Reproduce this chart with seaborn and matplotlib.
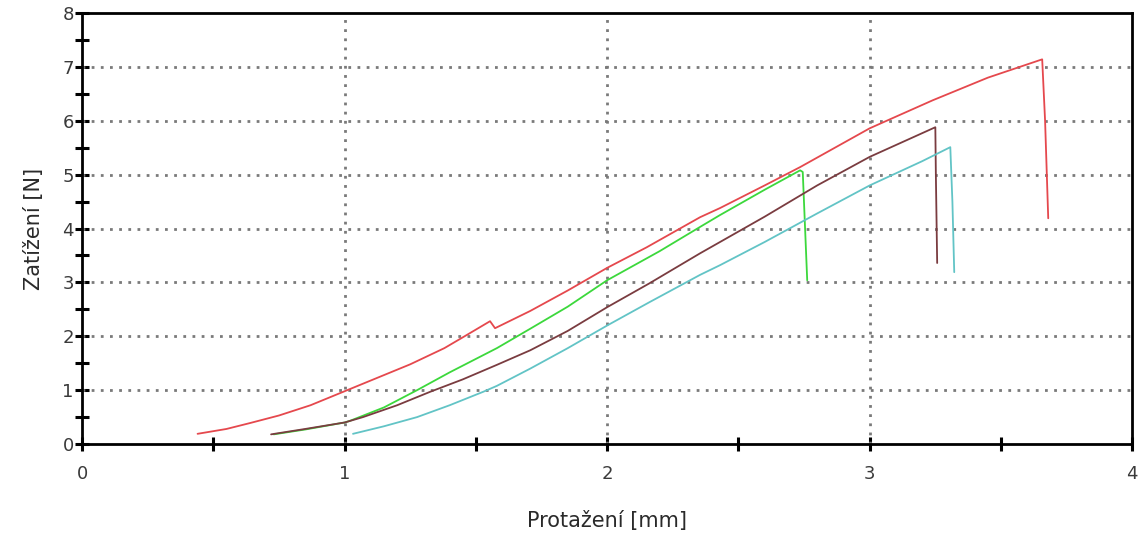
import matplotlib
matplotlib.use("Agg")
import matplotlib.pyplot as plt
import seaborn as sns
import pandas as pd
import numpy as np

# ---- data ----
red_x = [0.44, 0.55, 0.64, 0.75, 0.87, 1.0, 1.12, 1.25, 1.38, 1.45, 1.554, 1.573, 1.707, 1.85, 2.0, 2.15,
         2.354, 2.43, 2.6, 2.735, 3.0, 3.24, 3.45, 3.657, 3.668, 3.68]
red_y = [0.19, 0.28, 0.39, 0.53, 0.72, 0.98, 1.22, 1.48, 1.78, 1.98, 2.28, 2.15, 2.47, 2.85, 3.27, 3.65,
         4.21, 4.38, 4.80, 5.14, 5.86, 6.38, 6.80, 7.14, 6.0, 4.19]

green_x = [0.73, 0.85, 1.0, 1.02, 1.15, 1.276, 1.4, 1.58, 1.707, 1.85, 2.0, 2.2, 2.354, 2.43, 2.6, 2.735,
           2.745, 2.762]
green_y = [0.18, 0.27, 0.40, 0.43, 0.68, 1.0, 1.33, 1.78, 2.14, 2.55, 3.04, 3.58, 4.03, 4.25, 4.72, 5.08,
           5.05, 3.04]

brown_x = [0.72, 0.85, 1.0, 1.07, 1.2, 1.326, 1.45, 1.58, 1.707, 1.85, 2.0, 2.16, 2.354, 2.43, 2.6, 2.8,
           3.0, 3.25, 3.252, 3.257]
brown_y = [0.18, 0.28, 0.40, 0.50, 0.72, 0.97, 1.2, 1.47, 1.74, 2.1, 2.54, 2.98, 3.54, 3.75, 4.22, 4.80,
           5.33, 5.88, 5.0, 3.36]

cyan_x = [1.032, 1.15, 1.276, 1.4, 1.528, 1.58, 1.707, 1.85, 2.0, 2.16, 2.354, 2.43, 2.6, 2.8, 3.0, 3.2,
          3.307, 3.315, 3.322]
cyan_y = [0.19, 0.33, 0.50, 0.72, 0.97, 1.08, 1.40, 1.78, 2.2, 2.63, 3.14, 3.32, 3.75, 4.28, 4.80, 5.25,
          5.51, 4.5, 3.19]

series_names = ["red", "green", "brown", "cyan"]
series_colors = ["#e5484d", "#3cd83c", "#7a3c40", "#62c4c6"]

x_ticks = [0, 1, 2, 3, 4]
y_ticks = [0, 1, 2, 3, 4, 5, 6, 7, 8]
x_label = "Protažení [mm]"
y_label = "Zatížení [N]"

# ---- build long table ----
frames = []
for name, xs, ys in zip(series_names, [red_x, green_x, brown_x, cyan_x],
                        [red_y, green_y, brown_y, cyan_y]):
    frames.append(pd.DataFrame({"x": xs, "y": ys, "s": name}))
df = pd.concat(frames, ignore_index=True)

sns.set_style("white")
plt.rcParams["font.family"] = ["DejaVu Sans"]

fig = plt.figure(figsize=(11.46, 5.35), dpi=100)
ax = fig.add_axes([0.0716, 0.170, 0.9164, 0.8057])

# grid
grid_kw = dict(color="#7a7a7a", lw=2.0, linestyle=(0, (1, 2.3)), zorder=1)
for gy in range(1, 8):
    ax.axhline(gy, **grid_kw)
for gx in range(1, 4):
    ax.axvline(gx, **grid_kw)

sns.lineplot(data=df, x="x", y="y", hue="s", palette=dict(zip(series_names, series_colors)),
             sort=False, estimator=None, legend=False, lw=1.3, ax=ax, zorder=3)

ax.set_xlim(0, 4)
ax.set_ylim(0, 8)
ax.set_xticks(x_ticks)
ax.set_yticks(y_ticks)
ax.set_xticks(np.arange(0.5, 4, 1.0), minor=True)
ax.set_yticks(np.arange(0.5, 8, 1.0), minor=True)

for sp in ax.spines.values():
    sp.set_color("black")
    sp.set_linewidth(2.0)
    sp.set_zorder(5)

ax.tick_params(axis="both", which="both", direction="inout", color="black", width=2.2,
               length=10, labelsize=13, labelcolor="#3a3a3a", bottom=True, left=True,
               top=False, right=False)
ax.tick_params(axis="x", which="major", pad=10)
ax.tick_params(axis="y", which="major", pad=1)

ax.set_xlabel(x_label, fontsize=15, color="#2a2a2a", labelpad=20)
ax.set_ylabel(y_label, fontsize=15, color="#2a2a2a", labelpad=13)

fig.savefig("out.png", dpi=100)
